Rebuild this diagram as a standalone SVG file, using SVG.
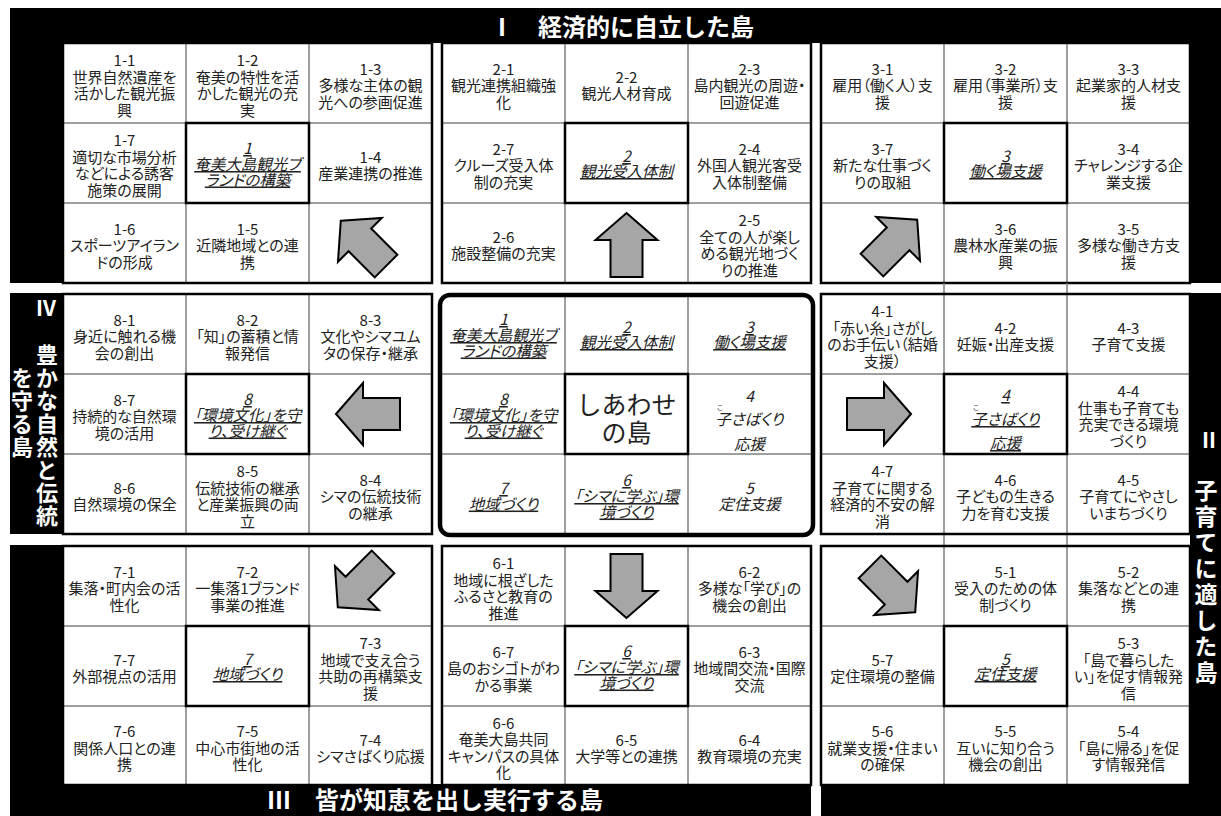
<svg xmlns="http://www.w3.org/2000/svg" width="1221" height="816" viewBox="0 0 1221 816">
<defs>
<style>
.t{font-family:"Noto Sans CJK JP","Noto Sans",sans-serif;font-size:15px;fill:#222;text-anchor:middle;dominant-baseline:central;font-feature-settings:"palt";}
.c{font-style:italic;text-decoration:underline;font-size:15.5px;}
.cn{font-style:italic;font-size:15.5px;}
.rb{font-family:"Noto Sans CJK JP",sans-serif;font-size:7px;fill:#222;text-anchor:middle;dominant-baseline:central;}
.big{font-family:"Noto Sans CJK JP",sans-serif;font-size:25px;fill:#222;text-anchor:middle;dominant-baseline:central;}
.cell{fill:#fff;}
.grid{stroke:#808080;stroke-width:1.5;fill:none;}
.frame{fill:none;stroke:#000;stroke-width:2.5;}
.core{fill:none;stroke:#000;stroke-width:2.5;}
.bar{fill:#000;}
.bt{font-family:"Noto Sans CJK JP",sans-serif;font-weight:bold;fill:#fff;}
.arrow{fill:#a6a6a6;stroke:#000;stroke-width:2;stroke-linejoin:miter;}
</style>
<path id="arw" d="M0,-30 L31,-3 L16,-3 L16,34 L-16,34 L-16,-3 L-31,-3 Z"/>
</defs>
<rect width="1221" height="816" fill="#fff"/>

<g id="bars">
<rect class="bar" x="10" y="8" width="1211" height="35"/>
<rect class="bar" x="10" y="8" width="53" height="275"/>
<rect class="bar" x="1190" y="8" width="31" height="275"/>
<rect class="bar" x="10" y="293" width="53" height="241"/>
<rect class="bar" x="1190" y="293" width="31" height="523"/>
<rect class="bar" x="10" y="545" width="53" height="271"/>
<rect class="bar" x="10" y="784" width="801" height="32"/>
<rect class="bar" x="821" y="784" width="400" height="32"/>
<text class="bt" x="490" y="25" font-size="24" dominant-baseline="central">Ⅰ　経済的に自立した島</text>
<text class="bt" x="267" y="798" font-size="24" dominant-baseline="central">Ⅲ　皆が知恵を出し実行する島</text>
<text class="bt" x="46" y="307" font-size="21" text-anchor="middle" dominant-baseline="central">Ⅳ</text>
<text class="bt" x="47" y="344" font-size="22" letter-spacing="1" writing-mode="vertical-rl">豊かな自然と伝統</text>
<text class="bt" x="22" y="367" font-size="22" letter-spacing="1" writing-mode="vertical-rl">を守る島</text>
<text class="bt" x="1209" y="439" font-size="21" text-anchor="middle" dominant-baseline="central">Ⅱ</text>
<text class="bt" x="1206" y="478.5" font-size="23" letter-spacing="3" writing-mode="vertical-rl">子育てに適した島</text>
</g>

<g id="block1">
<rect class="cell" x="63" y="43" width="369" height="240"/>
<path class="grid" d="M186,43V283M309,43V283M63,123H432M63,203H432"/>
<rect class="core" x="186" y="123" width="123" height="80"/>
<rect class="frame" x="63" y="43" width="369" height="240"/>
<g id="n1-1"><text class="t"><tspan x="124.5" y="59">1-1</tspan><tspan x="124.5" y="75.5">世界自然遺産を</tspan><tspan x="124.5" y="92">活かした観光振</tspan><tspan x="124.5" y="108.5">興</tspan></text></g>
<g id="n1-2"><text class="t"><tspan x="247.5" y="59">1-2</tspan><tspan x="247.5" y="75.5">奄美の特性を活</tspan><tspan x="247.5" y="92">かした観光の充</tspan><tspan x="247.5" y="108.5">実</tspan></text></g>
<g id="n1-3"><text class="t"><tspan x="370.5" y="67.5">1-3</tspan><tspan x="370.5" y="84">多様な主体の観</tspan><tspan x="370.5" y="100.5">光への参画促進</tspan></text></g>
<g id="n1-7"><text class="t"><tspan x="124.5" y="139">1-7</tspan><tspan x="124.5" y="155.5">適切な市場分析</tspan><tspan x="124.5" y="172">などによる誘客</tspan><tspan x="124.5" y="188.5">施策の展開</tspan></text></g>
<g id="n1"><text class="t c"><tspan x="247.5" y="147">1</tspan><tspan x="247.5" y="163">奄美大島観光ブ</tspan><tspan x="247.5" y="178.5">ランドの構築</tspan></text></g>
<g id="n1-4"><text class="t"><tspan x="370.5" y="156">1-4</tspan><tspan x="370.5" y="172">産業連携の推進</tspan></text></g>
<g id="n1-6"><text class="t"><tspan x="124.5" y="227.5">1-6</tspan><tspan x="124.5" y="244">スポーツアイラン</tspan><tspan x="124.5" y="260.5">ドの形成</tspan></text></g>
<g id="n1-5"><text class="t"><tspan x="247.5" y="227.5">1-5</tspan><tspan x="247.5" y="244">近隣地域との連</tspan><tspan x="247.5" y="260.5">携</tspan></text></g>
</g>

<g id="block2">
<rect class="cell" x="442" y="43" width="369" height="240"/>
<path class="grid" d="M565,43V283M688,43V283M442,123H811M442,203H811"/>
<rect class="core" x="565" y="123" width="123" height="80"/>
<rect class="frame" x="442" y="43" width="369" height="240"/>
<g id="n2-1"><text class="t"><tspan x="503.5" y="67.5">2-1</tspan><tspan x="503.5" y="84">観光連携組織強</tspan><tspan x="503.5" y="100.5">化</tspan></text></g>
<g id="n2-2"><text class="t"><tspan x="626.5" y="76">2-2</tspan><tspan x="626.5" y="92">観光人材育成</tspan></text></g>
<g id="n2-3"><text class="t"><tspan x="749.5" y="67.5">2-3</tspan><tspan x="749.5" y="84">島内観光の周遊・</tspan><tspan x="749.5" y="100.5">回遊促進</tspan></text></g>
<g id="n2-7"><text class="t"><tspan x="503.5" y="147.5">2-7</tspan><tspan x="503.5" y="164">クルーズ受入体</tspan><tspan x="503.5" y="180.5">制の充実</tspan></text></g>
<g id="n2"><text class="t c"><tspan x="626.5" y="155">2</tspan><tspan x="626.5" y="170">観光受入体制</tspan></text></g>
<g id="n2-4"><text class="t"><tspan x="749.5" y="147.5">2-4</tspan><tspan x="749.5" y="164">外国人観光客受</tspan><tspan x="749.5" y="180.5">入体制整備</tspan></text></g>
<g id="n2-6"><text class="t"><tspan x="503.5" y="236">2-6</tspan><tspan x="503.5" y="252">施設整備の充実</tspan></text></g>
<g id="n2-5"><text class="t"><tspan x="749.5" y="219">2-5</tspan><tspan x="749.5" y="235.5">全ての人が楽し</tspan><tspan x="749.5" y="252">める観光地づく</tspan><tspan x="749.5" y="268.5">りの推進</tspan></text></g>
</g>

<g id="block3">
<rect class="cell" x="821" y="43" width="369" height="240"/>
<path class="grid" d="M944,43V283M1067,43V283M821,123H1190M821,203H1190"/>
<rect class="core" x="944" y="123" width="123" height="80"/>
<rect class="frame" x="821" y="43" width="369" height="240"/>
<g id="n3-1"><text class="t"><tspan x="882.5" y="67.5">3-1</tspan><tspan x="882.5" y="84">雇用（働く人）支</tspan><tspan x="882.5" y="100.5">援</tspan></text></g>
<g id="n3-2"><text class="t"><tspan x="1005.5" y="67.5">3-2</tspan><tspan x="1005.5" y="84">雇用（事業所）支</tspan><tspan x="1005.5" y="100.5">援</tspan></text></g>
<g id="n3-3"><text class="t"><tspan x="1128.5" y="67.5">3-3</tspan><tspan x="1128.5" y="84">起業家的人材支</tspan><tspan x="1128.5" y="100.5">援</tspan></text></g>
<g id="n3-7"><text class="t"><tspan x="882.5" y="147.5">3-7</tspan><tspan x="882.5" y="164">新たな仕事づく</tspan><tspan x="882.5" y="180.5">りの取組</tspan></text></g>
<g id="n3"><text class="t c"><tspan x="1005.5" y="155">3</tspan><tspan x="1005.5" y="170">働く場支援</tspan></text></g>
<g id="n3-4"><text class="t"><tspan x="1128.5" y="147.5">3-4</tspan><tspan x="1128.5" y="164">チャレンジする企</tspan><tspan x="1128.5" y="180.5">業支援</tspan></text></g>
<g id="n3-6"><text class="t"><tspan x="1005.5" y="227.5">3-6</tspan><tspan x="1005.5" y="244">農林水産業の振</tspan><tspan x="1005.5" y="260.5">興</tspan></text></g>
<g id="n3-5"><text class="t"><tspan x="1128.5" y="227.5">3-5</tspan><tspan x="1128.5" y="244">多様な働き方支</tspan><tspan x="1128.5" y="260.5">援</tspan></text></g>
</g>

<g id="block8">
<rect class="cell" x="63" y="294" width="369" height="240"/>
<path class="grid" d="M186,294V534M309,294V534M63,374H432M63,454H432"/>
<rect class="core" x="186" y="374" width="123" height="80"/>
<rect class="frame" x="63" y="294" width="369" height="240"/>
<g id="n8-1"><text class="t"><tspan x="124.5" y="318.5">8-1</tspan><tspan x="124.5" y="335">身近に触れる機</tspan><tspan x="124.5" y="351.5">会の創出</tspan></text></g>
<g id="n8-2"><text class="t"><tspan x="247.5" y="318.5">8-2</tspan><tspan x="247.5" y="335">「知」の蓄積と情</tspan><tspan x="247.5" y="351.5">報発信</tspan></text></g>
<g id="n8-3"><text class="t"><tspan x="370.5" y="318.5">8-3</tspan><tspan x="370.5" y="335">文化やシマユム</tspan><tspan x="370.5" y="351.5">タの保存・継承</tspan></text></g>
<g id="n8-7"><text class="t"><tspan x="124.5" y="398.5">8-7</tspan><tspan x="124.5" y="415">持続的な自然環</tspan><tspan x="124.5" y="431.5">境の活用</tspan></text></g>
<g id="n8"><text class="t c"><tspan x="247.5" y="398">8</tspan><tspan x="247.5" y="414">「環境文化」を守</tspan><tspan x="247.5" y="429.5">り、受け継ぐ</tspan></text></g>
<g id="n8-6"><text class="t"><tspan x="124.5" y="487">8-6</tspan><tspan x="124.5" y="503">自然環境の保全</tspan></text></g>
<g id="n8-5"><text class="t"><tspan x="247.5" y="470">8-5</tspan><tspan x="247.5" y="486.5">伝統技術の継承</tspan><tspan x="247.5" y="503">と産業振興の両</tspan><tspan x="247.5" y="519.5">立</tspan></text></g>
<g id="n8-4"><text class="t"><tspan x="370.5" y="478.5">8-4</tspan><tspan x="370.5" y="495">シマの伝統技術</tspan><tspan x="370.5" y="511.5">の継承</tspan></text></g>
</g>

<g id="center">
<rect class="cell" x="442" y="294" width="369" height="240"/>
<path class="grid" d="M565,294V534M688,294V534M442,374H811M442,454H811"/>
<rect class="core" x="565" y="374" width="123" height="80"/>
<rect x="440" y="295" width="373" height="240" rx="10" fill="none" stroke="#000" stroke-width="4.5"/>
<g id="m1"><text class="t c"><tspan x="503.5" y="318">1</tspan><tspan x="503.5" y="334">奄美大島観光ブ</tspan><tspan x="503.5" y="349.5">ランドの構築</tspan></text></g>
<g id="m2"><text class="t c"><tspan x="626.5" y="326">2</tspan><tspan x="626.5" y="341">観光受入体制</tspan></text></g>
<g id="m3"><text class="t c"><tspan x="749.5" y="326">3</tspan><tspan x="749.5" y="341">働く場支援</tspan></text></g>
<g id="m8"><text class="t c"><tspan x="503.5" y="398">8</tspan><tspan x="503.5" y="414">「環境文化」を守</tspan><tspan x="503.5" y="429.5">り、受け継ぐ</tspan></text></g>
<g id="m0"><text class="big"><tspan x="626.5" y="403">しあわせ</tspan><tspan x="626.5" y="431">の島</tspan></text></g>
<g id="m4"><text class="t cn"><tspan x="749.5" y="395">4</tspan><tspan x="749.5" y="418">子さばくり</tspan><tspan x="749.5" y="443">応援</tspan></text><text class="rb" x="720" y="407">こ</text></g>
<g id="m7"><text class="t c"><tspan x="503.5" y="487">7</tspan><tspan x="503.5" y="502.5">地域づくり</tspan></text></g>
<g id="m6"><text class="t c"><tspan x="626.5" y="479">6</tspan><tspan x="626.5" y="495">「シマに学ぶ」環</tspan><tspan x="626.5" y="510.5">境づくり</tspan></text></g>
<g id="m5"><text class="t cn"><tspan x="749.5" y="487">5</tspan><tspan x="749.5" y="502.5">定住支援</tspan></text></g>
</g>

<g id="block4">
<rect class="cell" x="821" y="294" width="369" height="240"/>
<path class="grid" d="M944,294V534M1067,294V534M821,374H1190M821,454H1190M944,283V294M1067,283V294M944,534V546M1067,534V546"/>
<rect class="core" x="944" y="374" width="123" height="80"/>
<rect class="frame" x="821" y="294" width="369" height="240"/>
<g id="n4-1"><text class="t"><tspan x="882.5" y="310">4-1</tspan><tspan x="882.5" y="326.5">「赤い糸」さがし</tspan><tspan x="882.5" y="343">のお手伝い（結婚</tspan><tspan x="882.5" y="359.5">支援）</tspan></text></g>
<g id="n4-2"><text class="t"><tspan x="1005.5" y="327">4-2</tspan><tspan x="1005.5" y="343">妊娠・出産支援</tspan></text></g>
<g id="n4-3"><text class="t"><tspan x="1128.5" y="327">4-3</tspan><tspan x="1128.5" y="343">子育て支援</tspan></text></g>
<g id="n4"><text class="t c"><tspan x="1005.5" y="394">4</tspan><tspan x="1005.5" y="418">子さばくり</tspan><tspan x="1005.5" y="442">応援</tspan></text><text class="rb" x="976" y="407">こ</text></g>
<g id="n4-4"><text class="t"><tspan x="1128.5" y="390">4-4</tspan><tspan x="1128.5" y="406.5">仕事も子育ても</tspan><tspan x="1128.5" y="423">充実できる環境</tspan><tspan x="1128.5" y="439.5">づくり</tspan></text></g>
<g id="n4-7"><text class="t"><tspan x="882.5" y="470">4-7</tspan><tspan x="882.5" y="486.5">子育てに関する</tspan><tspan x="882.5" y="503">経済的不安の解</tspan><tspan x="882.5" y="519.5">消</tspan></text></g>
<g id="n4-6"><text class="t"><tspan x="1005.5" y="478.5">4-6</tspan><tspan x="1005.5" y="495">子どもの生きる</tspan><tspan x="1005.5" y="511.5">力を育む支援</tspan></text></g>
<g id="n4-5"><text class="t"><tspan x="1128.5" y="478.5">4-5</tspan><tspan x="1128.5" y="495">子育てにやさし</tspan><tspan x="1128.5" y="511.5">いまちづくり</tspan></text></g>
</g>

<g id="block7">
<rect class="cell" x="63" y="546" width="369" height="239"/>
<path class="grid" d="M186,546V785M309,546V785M63,626H432M63,706H432"/>
<rect class="core" x="186" y="626" width="123" height="80"/>
<rect class="frame" x="63" y="546" width="369" height="239"/>
<g id="n7-1"><text class="t"><tspan x="124.5" y="570.5">7-1</tspan><tspan x="124.5" y="587">集落・町内会の活</tspan><tspan x="124.5" y="603.5">性化</tspan></text></g>
<g id="n7-2"><text class="t"><tspan x="247.5" y="570.5">7-2</tspan><tspan x="247.5" y="587">一集落1ブランド</tspan><tspan x="247.5" y="603.5">事業の推進</tspan></text></g>
<g id="n7-7"><text class="t"><tspan x="124.5" y="659">7-7</tspan><tspan x="124.5" y="675">外部視点の活用</tspan></text></g>
<g id="n7"><text class="t c"><tspan x="247.5" y="658">7</tspan><tspan x="247.5" y="673">地域づくり</tspan></text></g>
<g id="n7-3"><text class="t"><tspan x="370.5" y="642">7-3</tspan><tspan x="370.5" y="658.5">地域で支え合う</tspan><tspan x="370.5" y="675">共助の再構築支</tspan><tspan x="370.5" y="691.5">援</tspan></text></g>
<g id="n7-6"><text class="t"><tspan x="124.5" y="730">7-6</tspan><tspan x="124.5" y="746.5">関係人口との連</tspan><tspan x="124.5" y="763">携</tspan></text></g>
<g id="n7-5"><text class="t"><tspan x="247.5" y="730">7-5</tspan><tspan x="247.5" y="746.5">中心市街地の活</tspan><tspan x="247.5" y="763">性化</tspan></text></g>
<g id="n7-4"><text class="t"><tspan x="370.5" y="738.5">7-4</tspan><tspan x="370.5" y="754.5">シマさばくり応援</tspan></text></g>
</g>

<g id="block6">
<rect class="cell" x="442" y="546" width="369" height="239"/>
<path class="grid" d="M565,546V785M688,546V785M442,626H811M442,706H811"/>
<rect class="core" x="565" y="626" width="123" height="80"/>
<rect class="frame" x="442" y="546" width="369" height="239"/>
<g id="n6-1"><text class="t"><tspan x="503.5" y="562">6-1</tspan><tspan x="503.5" y="578.5">地域に根ざした</tspan><tspan x="503.5" y="595">ふるさと教育の</tspan><tspan x="503.5" y="611.5">推進</tspan></text></g>
<g id="n6-2"><text class="t"><tspan x="749.5" y="570.5">6-2</tspan><tspan x="749.5" y="587">多様な「学び」の</tspan><tspan x="749.5" y="603.5">機会の創出</tspan></text></g>
<g id="n6-7"><text class="t"><tspan x="503.5" y="650.5">6-7</tspan><tspan x="503.5" y="667">島のおシゴトがわ</tspan><tspan x="503.5" y="683.5">かる事業</tspan></text></g>
<g id="n6"><text class="t c"><tspan x="626.5" y="650">6</tspan><tspan x="626.5" y="666">「シマに学ぶ」環</tspan><tspan x="626.5" y="681.5">境づくり</tspan></text></g>
<g id="n6-3"><text class="t"><tspan x="749.5" y="650.5">6-3</tspan><tspan x="749.5" y="667">地域間交流・国際</tspan><tspan x="749.5" y="683.5">交流</tspan></text></g>
<g id="n6-6"><text class="t"><tspan x="503.5" y="721.5">6-6</tspan><tspan x="503.5" y="738">奄美大島共同</tspan><tspan x="503.5" y="754.5">キャンパスの具体</tspan><tspan x="503.5" y="771">化</tspan></text></g>
<g id="n6-5"><text class="t"><tspan x="626.5" y="738.5">6-5</tspan><tspan x="626.5" y="754.5">大学等との連携</tspan></text></g>
<g id="n6-4"><text class="t"><tspan x="749.5" y="738.5">6-4</tspan><tspan x="749.5" y="754.5">教育環境の充実</tspan></text></g>
</g>

<g id="block5">
<rect class="cell" x="821" y="546" width="369" height="239"/>
<path class="grid" d="M944,546V785M1067,546V785M821,626H1190M821,706H1190"/>
<rect class="core" x="944" y="626" width="123" height="80"/>
<rect class="frame" x="821" y="546" width="369" height="239"/>
<g id="n5-1"><text class="t"><tspan x="1005.5" y="570.5">5-1</tspan><tspan x="1005.5" y="587">受入のための体</tspan><tspan x="1005.5" y="603.5">制づくり</tspan></text></g>
<g id="n5-2"><text class="t"><tspan x="1128.5" y="570.5">5-2</tspan><tspan x="1128.5" y="587">集落などとの連</tspan><tspan x="1128.5" y="603.5">携</tspan></text></g>
<g id="n5-7"><text class="t"><tspan x="882.5" y="659">5-7</tspan><tspan x="882.5" y="675">定住環境の整備</tspan></text></g>
<g id="n5"><text class="t c"><tspan x="1005.5" y="658">5</tspan><tspan x="1005.5" y="673">定住支援</tspan></text></g>
<g id="n5-3"><text class="t"><tspan x="1128.5" y="642">5-3</tspan><tspan x="1128.5" y="658.5">「島で暮らした</tspan><tspan x="1128.5" y="675">い」を促す情報発</tspan><tspan x="1128.5" y="691.5">信</tspan></text></g>
<g id="n5-6"><text class="t"><tspan x="882.5" y="730">5-6</tspan><tspan x="882.5" y="746.5">就業支援・住まい</tspan><tspan x="882.5" y="763">の確保</tspan></text></g>
<g id="n5-5"><text class="t"><tspan x="1005.5" y="730">5-5</tspan><tspan x="1005.5" y="746.5">互いに知り合う</tspan><tspan x="1005.5" y="763">機会の創出</tspan></text></g>
<g id="n5-4"><text class="t"><tspan x="1128.5" y="730">5-4</tspan><tspan x="1128.5" y="746.5">「島に帰る」を促</tspan><tspan x="1128.5" y="763">す情報発信</tspan></text></g>
</g>

<g id="connectors">
<use href="#arw" class="arrow" transform="translate(362,242) rotate(-45)"/>
<use href="#arw" class="arrow" transform="translate(626.5,243)"/>
<use href="#arw" class="arrow" transform="translate(896,241) rotate(45)"/>
<use href="#arw" class="arrow" transform="translate(366,414) rotate(-90)"/>
<use href="#arw" class="arrow" transform="translate(881,414) rotate(90)"/>
<use href="#arw" class="arrow" transform="translate(359,586) rotate(-135)"/>
<use href="#arw" class="arrow" transform="translate(626.5,588) rotate(180)"/>
<use href="#arw" class="arrow" transform="translate(894,591) rotate(135)"/>
</g>
</svg>
